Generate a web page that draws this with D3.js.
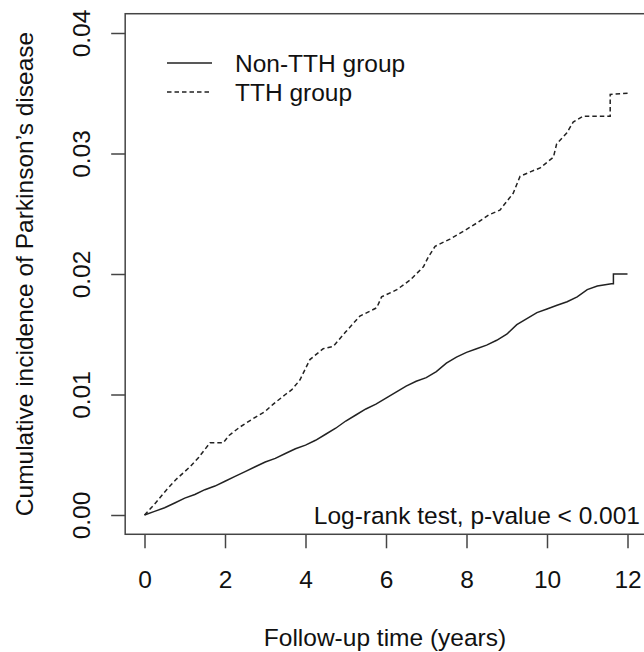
<!DOCTYPE html>
<html><head><meta charset="utf-8">
<script src="https://cdn.jsdelivr.net/npm/d3@7"></script>
<style>body{margin:0;background:#fff}svg{display:block}text{font-family:"Liberation Sans",Arial,sans-serif;fill:#111}</style>
</head><body>
<script>
const xTicks = [0, 2, 4, 6, 8, 10, 12];
const yTicks = [0, 0.01, 0.02, 0.03, 0.04];
const yTickLabels = ["0.00", "0.01", "0.02", "0.03", "0.04"];
const seriesNames = ["Non-TTH group", "TTH group"];
const nonTTH_t = [0,0.25,0.5,0.75,1.0,1.25,1.5,1.75,2.0,2.25,2.5,2.75,3.0,3.25,3.5,3.75,4.0,4.25,4.5,4.75,5.0,5.25,5.5,5.75,6.0,6.25,6.5,6.75,7.0,7.25,7.5,7.75,8.0,8.25,8.5,8.75,9.0,9.25,9.5,9.75,10.0,10.25,10.5,10.75,11.0,11.25,11.6,11.65,11.65,12.0];
const nonTTH_v = [0,0.0003,0.0006,0.0010,0.0014,0.0017,0.0021,0.0024,0.0028,0.0032,0.0036,0.0040,0.0044,0.0047,0.0051,0.0055,0.0058,0.0062,0.0067,0.0072,0.0078,0.0083,0.0088,0.0092,0.0097,0.0102,0.0107,0.0111,0.0114,0.0119,0.0126,0.0131,0.0135,0.0138,0.0141,0.0145,0.0150,0.0158,0.0163,0.0168,0.0171,0.0174,0.0177,0.0181,0.0187,0.0190,0.0192,0.0192,0.0200,0.0200];
const tth_t = [0,0.25,0.55,0.8,1.13,1.35,1.63,1.96,2.1,2.37,2.7,3.0,3.2,3.5,3.66,3.86,4.11,4.44,4.69,5.0,5.35,5.77,5.89,6.27,6.6,6.93,7.05,7.22,7.59,8.0,8.29,8.55,8.83,9.16,9.33,9.6,9.83,10.16,10.24,10.49,10.65,10.9,11.5,11.57,11.57,12.02];
const tth_v = [0,0.0009,0.0021,0.0030,0.0040,0.0048,0.0060,0.0060,0.0066,0.0073,0.0080,0.0086,0.0092,0.0100,0.0104,0.0112,0.0129,0.0138,0.0140,0.0152,0.0165,0.0172,0.0181,0.0187,0.0195,0.0206,0.0214,0.0223,0.0229,0.0237,0.0243,0.0249,0.0253,0.0267,0.0281,0.0285,0.0288,0.0297,0.0308,0.0317,0.0326,0.0331,0.0331,0.0331,0.0349,0.0350];

(function () {
const W = 644, H = 652;
const svg = d3.select("body").append("svg").attr("width", W).attr("height", H);
const x = d3.scaleLinear().domain([0, 12]).range([144.5, 627.5]);
const y = d3.scaleLinear().domain([0, 0.04]).range([515, 33]);
const FS = 24.5;
const bxL = x(-0.48), bxR = x(12.48), bxT = y(0.0416), bxB = y(-0.0016);
const FF = '"Liberation Sans",Arial,sans-serif';

svg.append("rect").attr("x", bxL).attr("y", bxT).attr("width", bxR - bxL).attr("height", bxB - bxT)
  .attr("fill", "none").attr("stroke", "#444").attr("stroke-width", 1.5);

const gx = svg.append("g").attr("transform", `translate(0,${bxB})`)
  .call(d3.axisBottom(x).tickValues(xTicks).tickSize(14).tickFormat(d3.format("d")));
gx.select(".domain").remove();
gx.selectAll("line").attr("stroke", "#444").attr("stroke-width", 1.5);
gx.selectAll("text").attr("font-size", FS).attr("dy", null).attr("y", 588 - bxB).attr("fill", "#111").style("font-family", FF);

const gy = svg.append("g").attr("transform", `translate(${bxL},0)`)
  .call(d3.axisLeft(y).tickValues(yTicks).tickSize(14).tickFormat((d, i) => yTickLabels[i]));
gy.select(".domain").remove();
gy.selectAll("line").attr("stroke", "#444").attr("stroke-width", 1.5);
gy.selectAll("text").attr("font-size", FS).attr("dy", null).attr("x", null)
  .attr("text-anchor", "middle").attr("transform", `translate(${90 - bxL},0) rotate(-90)`)
  .attr("fill", "#111").style("font-family", FF);

svg.append("text").attr("x", (bxL + bxR) / 2 - 1).attr("y", 646).attr("text-anchor", "middle")
  .attr("font-size", FS).text("Follow-up time (years)");
svg.append("text").attr("transform", `translate(33,${(bxT + bxB) / 2}) rotate(-90)`).attr("text-anchor", "middle")
  .attr("font-size", FS).text("Cumulative incidence of Parkinson\u2019s disease");

const line = d3.line().x(d => x(d[0])).y(d => y(d[1]));
const s1 = nonTTH_t.map((t, i) => [t, nonTTH_v[i]]);
const s2 = tth_t.map((t, i) => [t, tth_v[i]]);
svg.append("path").attr("d", line(s1)).attr("fill", "none").attr("stroke", "#222").attr("stroke-width", 1.5);
svg.append("path").attr("d", line(s2)).attr("fill", "none").attr("stroke", "#222").attr("stroke-width", 1.5).attr("stroke-dasharray", "4.5,3");

const leg = [[63, null, 72], [92, "4.5,3", 100.5]];
leg.forEach((l, i) => {
  svg.append("line").attr("x1", 167).attr("x2", 212).attr("y1", l[0]).attr("y2", l[0])
    .attr("stroke", "#222").attr("stroke-width", 1.5).attr("stroke-dasharray", l[1]);
  svg.append("text").attr("x", 235).attr("y", l[2]).attr("font-size", FS).text(seriesNames[i]);
});

svg.append("text").attr("x", 640).attr("y", 524).attr("text-anchor", "end").attr("font-size", FS)
  .text("Log-rank test, p-value < 0.001");
})();
</script>
</body></html>
